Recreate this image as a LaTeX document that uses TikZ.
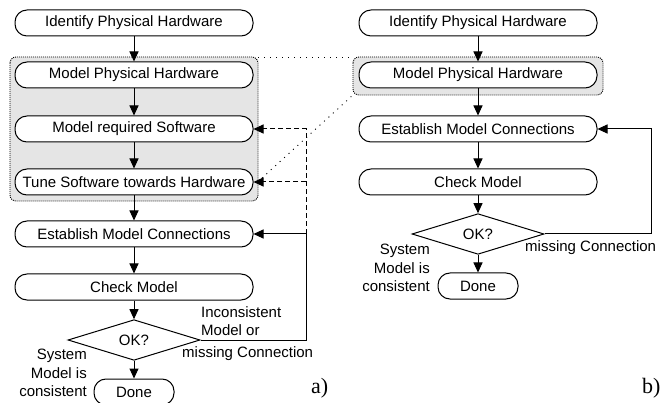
\documentclass[tikz,border=0pt]{standalone}
\usepackage{fontspec}
\setmainfont{Liberation Sans}
\newfontfamily\labserif{Liberation Serif}
\usetikzlibrary{arrows.meta,shapes.geometric}
\begin{document}
\begin{tikzpicture}[x=1pt,y=-1pt,
  every node/.style={font=\fontsize{15}{18.5}\selectfont},
  stepbox/.style={draw,line width=1pt,fill=white,rounded corners=12pt,minimum width=238pt,minimum height=26pt,inner sep=0pt},
  donebox/.style={stepbox,minimum width=80pt,minimum height=26pt},
  decision/.style={draw,line width=1pt,fill=white,diamond,minimum width=132pt,minimum height=24pt,inner sep=0pt},
  grp/.style={line width=0.9pt,dash pattern=on 1pt off 1pt,fill=black!10,rounded corners=6pt},
  link/.style={line width=0.9pt,dash pattern=on 1pt off 5pt},
  arr/.style={line width=1pt,-{Triangle[length=10pt,width=9pt]}},
  dasharr/.style={arr,dash pattern=on 5pt off 3pt},
  lbl/.style={inner sep=0pt,font=\fontsize{15}{18.5}\selectfont},
  sub/.style={inner sep=0pt,font=\labserif\fontsize{22}{26}\selectfont}
]
\useasboundingbox (0,0) rectangle (669,403);
% groups
\draw[grp] (10,57) rectangle (258,201);
\draw[grp] (353,57) rectangle (603,95);
\draw[link] (258,57) -- (353,57);
\draw[link] (262,178) -- (353,95);
% left column
\node[stepbox] (a1) at (134,23) {Identify Physical Hardware};
\node[stepbox] (a2) at (134,75) {Model Physical Hardware};
\node[stepbox] (a3) at (134,129) {Model required Software};
\node[stepbox] (a4) at (134,182) {Tune Software towards Hardware};
\node[stepbox] (a5) at (134,234) {Establish Model Connections};
\node[stepbox] (a6) at (134,287) {Check Model};
\node[decision] (aok) at (134,340) {OK?};
\node[donebox] (adone) at (134,392) {Done};
\draw[arr] (a1) -- (a2);
\draw[arr] (a2) -- (a3);
\draw[arr] (a3) -- (a4);
\draw[arr] (a4) -- (a5);
\draw[arr] (a5) -- (a6);
\draw[arr] (a6) -- (aok);
\draw[arr] (aok) -- (adone);
\coordinate (ajoin) at (306,234);
\draw[arr] (aok.east) -| (ajoin) -- (a5.east);
\draw[dasharr] (ajoin) |- (a3.east);
\draw[dasharr] (ajoin |- a4.east) -- (a4.east);
\node[lbl,align=left,anchor=south west] (ainc) at (201,336) {Inconsistent\\Model or};
\node[lbl,anchor=north west] (amiss) at (182,346) {missing Connection};
\node[lbl,align=right,anchor=east] (asys) at (87,373) {System\\Model is\\consistent};
\node[sub,anchor=base west] (suba) at (311,393) {a)};
% right column
\node[stepbox] (b1) at (478,23) {Identify Physical Hardware};
\node[stepbox] (b2) at (478,75) {Model Physical Hardware};
\node[stepbox] (b5) at (478,129) {Establish Model Connections};
\node[stepbox] (b6) at (478,182) {Check Model};
\node[decision] (bok) at (478,234) {OK?};
\node[donebox] (bdone) at (478,286) {Done};
\draw[arr] (b1) -- (b2);
\draw[arr] (b2) -- (b5);
\draw[arr] (b5) -- (b6);
\draw[arr] (b6) -- (bok);
\draw[arr] (bok) -- (bdone);
\coordinate (bturn) at (651,129);
\draw[arr] (bok.east) -| (bturn) -- (b5.east);
\node[lbl,anchor=north west] (bmiss) at (525,240) {missing Connection};
\node[lbl,align=right,anchor=east] (bsys) at (430,268) {System\\Model is\\consistent};
\node[sub,anchor=base west] (subb) at (642,393) {b)};
\end{tikzpicture}
\end{document}
